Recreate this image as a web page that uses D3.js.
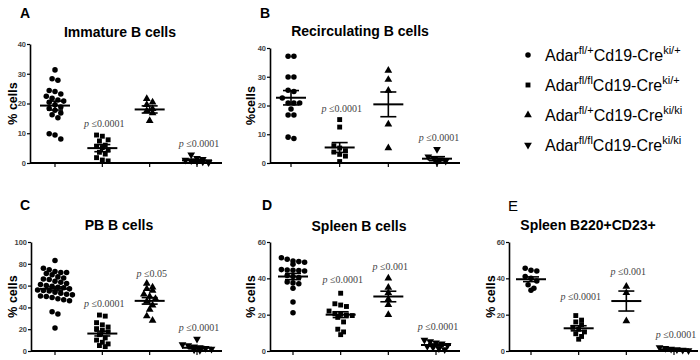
<!DOCTYPE html>
<html>
<head>
<meta charset="utf-8">
<script src="https://cdn.jsdelivr.net/npm/d3@7"></script>
<style>
  body { margin: 0; background: #fff; }
  svg { display: block; font-family: Arial, "Liberation Sans", sans-serif; }
</style>
</head>
<body>
<svg width="700" height="360"></svg>
<script>
// Genotypes (legend) and their marker shapes
const genotypes = [["fl/+", "ki/+"], ["fl/fl", "ki/+"], ["fl/+", "ki/ki"], ["fl/fl", "ki/ki"]];

// A - Immature B cells
const immature = [
  [31.3, 28.3, 27.8, 24.4, 24.0, 23.2, 22.4, 21.8, 21.2, 20.8, 20.4, 19.6, 18.8, 18.3, 17.7, 16.8, 16.2, 15.2, 9.8, 9.4, 8.1],
  [9.4, 9.0, 7.8, 7.4, 6.0, 5.6, 5.2, 4.4, 3.6, 3.0, 1.8, 1.0, 0.7],
  [21.6, 20.4, 19.6, 18.2, 17.6, 16.8, 14.2],
  [2.8, 1.6, 1.3, 1.0, 0.8, 0.6, 0.4, 0.2]
];
const immatureMean = [19.3, 5.0, 18.0, 0.9];
const immatureSem = [1.5, 1.2, 1.2, 0.3];
const immatureP = [null, "0.0001", null, "0.0001"];
const immaturePAt = [null, 12.2, null, 5.4];

// B - Recirculating B cells
const recirc = [
  [37.1, 37.1, 29.9, 29.9, 25.3, 24.9, 22.6, 20.9, 20.9, 20.9, 18.8, 16.7, 16.7, 9.0, 8.5],
  [15.1, 12.5, 6.0, 5.2, 4.3, 3.8, 3.0, 2.4, 0.5],
  [32.2, 29.0, 25.2, 13.5, 5.2],
  [4.8, 2.2, 1.6, 1.1, 0.7, 0.3]
];
const recircMean = [22.7, 5.4, 20.4, 1.5];
const recircSem = [2.5, 1.7, 4.3, 0.7];
const recircP = [null, "0.0001", null, "0.0001"];
const recircPAt = [null, 17.9, null, 7.5];

// C - PB B cells
const pb = [
  [83, 76, 74.5, 73, 72, 72, 71, 70, 68, 67, 66, 65.5, 64, 63, 62, 61, 60, 59.5, 58.5, 58, 57, 56, 55.5, 55, 54, 53, 52, 51.5, 50.5, 50, 49, 48, 47, 46, 36, 34, 21],
  [33, 32, 26, 24, 22, 20.5, 19, 17.5, 15, 12, 10, 8, 6.5, 5, 4],
  [62, 58.5, 57, 55.5, 52, 50, 48, 45.5, 42, 38, 32, 28],
  [11, 6, 5, 4, 3.2, 2.5, 1.8, 1.2, 0.6]
];
const pbMean = [57, 16, 46, 3];
const pbSem = [1.8, 2.2, 3, 1];
const pbP = [null, "0.0001", "0.05", "0.0001"];
const pbPAt = [null, 40.5, 68, 18.3];

// D - Spleen B cells
const spleen = [
  [51.3, 50.5, 49.5, 49.2, 48.8, 47.8, 44.8, 44.6, 44.5, 44.3, 44.0, 41.5, 41.0, 40.5, 38.0, 37.5, 37.0, 34.5, 27.0, 21.0],
  [31.8, 26.0, 25.3, 24.5, 22.0, 20.5, 20.2, 19.8, 19.5, 18.5, 16.0, 12.0, 10.5, 9.0],
  [40.0, 35.0, 32.0, 28.5, 25.5, 20.0],
  [6.0, 5.2, 4.6, 4.0, 3.2, 2.6, 2.0, 1.4, 0.8]
];
const spleenMean = [41, 20, 30, 3.3];
const spleenSem = [1.7, 1.6, 2.9, 0.6];
const spleenP = [null, "0.0001", "0.001", "0.0001"];
const spleenPAt = [null, 37.2, 44.8, 11.4];

// E - Spleen B220+CD23+
const cd23 = [
  [45.5, 44.5, 44.0, 41.0, 40.0, 38.5, 36.5, 34.5, 33.5],
  [19.5, 17.0, 16.0, 14.5, 13.0, 12.0, 10.5, 9.5, 8.0, 6.5],
  [35.5, 32.0, 16.5],
  [2.0, 1.5, 1.1, 0.8, 0.5, 0.3]
];
const cd23Mean = [39.5, 12.5, 27.5, 0.9];
const cd23Sem = [1.3, 1.4, 5.5, 0.2];
const cd23P = [null, "0.0001", "0.001", "0.0001"];
const cd23PAt = [null, 28, 41.8, 7];

const yTicksA = [0, 10, 20, 30, 40];
const yTicksC = [0, 20, 40, 60, 80, 100];
const yTicks60 = [0, 20, 40, 60];

// Panel layout
const panels = [
  { letter: "A", bold: true, title: "Immature B cells", ylab: "% cells", data: immature, mean: immatureMean, sem: immatureSem, p: immatureP, pAt: immaturePAt,
    ticks: yTicksA, x0: 30, x1: 222, g0: 55, g1: 197, top: 44, bot: 163, lx: 20, ly: 18, tx: 120, ty: 37, yl: 13 },
  { letter: "B", bold: true, title: "Recirculating B cells", ylab: "%cells", data: recirc, mean: recircMean, sem: recircSem, p: recircP, pAt: recircPAt,
    ticks: yTicksA, x0: 270, x1: 460, g0: 291, g1: 437, top: 48, bot: 163, lx: 260, ly: 18, tx: 360, ty: 36, yl: 251 },
  { letter: "C", bold: true, title: "PB B cells", ylab: "% cells", data: pb, mean: pbMean, sem: pbSem, p: pbP, pAt: pbPAt,
    ticks: yTicksC, x0: 31, x1: 222, g0: 55, g1: 197, top: 242, bot: 351, lx: 20, ly: 210, tx: 119, ty: 230, yl: 13 },
  { letter: "D", bold: true, title: "Spleen B cells", ylab: "% cells", data: spleen, mean: spleenMean, sem: spleenSem, p: spleenP, pAt: spleenPAt,
    ticks: yTicks60, x0: 270, x1: 460, g0: 293, g1: 436, top: 242, bot: 351, lx: 262, ly: 210, tx: 359, ty: 231, yl: 251 },
  { letter: "E", bold: false, title: "Spleen B220+CD23+", ylab: "% cells", data: cd23, mean: cd23Mean, sem: cd23Sem, p: cd23P, pAt: cd23PAt,
    ticks: yTicks60, x0: 509, x1: 698, g0: 531, g1: 674, top: 242, bot: 351, lx: 508, ly: 211, tx: 588, ty: 230, yl: 491 }
];

const svg = d3.select("svg");

const symbols = [
  d3.symbol().type(d3.symbolCircle).size(24),
  d3.symbol().type(d3.symbolSquare).size(24),
  d3.symbol().type(d3.symbolTriangle).size(26),
  d3.symbol().type(d3.symbolTriangle).size(26)
];
const rot = i => i === 3 ? " rotate(180)" : "";

// spread points sideways in rows, like a dot plot
function spread(ys, step) {
  const idx = ys.map((y, i) => i).sort((a, b) => ys[a] - ys[b]);
  const off = new Array(ys.length).fill(0);
  let row = [];
  const flush = () => {
    row.forEach((k, j) => { off[k] = (j - (row.length - 1) / 2) * step; });
    row = [];
  };
  idx.forEach(k => {
    if (row.length && ys[k] - ys[row[0]] > step * 0.9) flush();
    row.push(k);
  });
  flush();
  return off;
}

panels.forEach(P => {
  const g = svg.append("g");
  const maxV = d3.max(P.ticks);
  const y = d3.scaleLinear().domain([0, maxV]).range([P.bot, P.top]);
  const x = d3.scalePoint().domain([0, 1, 2, 3]).range([P.g0, P.g1]);

  // letter and title
  g.append("text").attr("x", P.lx).attr("y", P.ly).attr("font-size", P.bold ? 14 : 15)
    .attr("font-weight", P.bold ? "bold" : "normal").text(P.letter);
  g.append("text").attr("x", P.tx).attr("y", P.ty).attr("text-anchor", "middle")
    .attr("font-size", 14).attr("font-weight", "bold").text(P.title);

  // y label
  g.append("text").attr("transform", `translate(${P.yl},${(P.top + P.bot) / 2}) rotate(-90)`)
    .attr("text-anchor", "middle").attr("dy", "0.35em")
    .attr("font-size", 12.5).attr("font-weight", "bold").text(P.ylab);

  // y axis
  const ya = g.append("g").attr("transform", `translate(${P.x0},0)`)
    .call(d3.axisLeft(y).tickValues(P.ticks).tickSize(3).tickPadding(1).tickSizeOuter(0));
  ya.select(".domain").attr("stroke-width", 1.6);
  ya.selectAll(".tick line").attr("stroke-width", 1.2);
  ya.selectAll(".tick text").attr("font-size", 7.5).attr("font-weight", "bold").attr("fill", "#444").attr("font-family", "Arial, sans-serif");

  // x axis
  g.append("line").attr("x1", P.x0).attr("x2", P.x1).attr("y1", P.bot).attr("y2", P.bot)
    .attr("stroke", "#000").attr("stroke-width", 1.8);
  g.selectAll(".xt").data([0, 1, 2, 3]).join("line")
    .attr("x1", d => x(d)).attr("x2", d => x(d)).attr("y1", P.bot).attr("y2", P.bot + 4)
    .attr("stroke", "#000").attr("stroke-width", 1.2);

  P.data.forEach((vals, gi) => {
    const ys = vals.map(v => y(v));
    const off = spread(ys, 5.8);
    g.append("g").selectAll("path").data(vals).join("path")
      .attr("d", symbols[gi])
      .attr("transform", (v, i) => `translate(${x(gi) + off[i]},${ys[i]})${rot(gi)}`)
      .attr("fill", "#000");

    // mean and SEM
    const cx = x(gi), m = P.mean[gi], s = P.sem[gi];
    g.append("line").attr("x1", cx - 15).attr("x2", cx + 15).attr("y1", y(m)).attr("y2", y(m))
      .attr("stroke", "#000").attr("stroke-width", 2);
    g.append("line").attr("x1", cx).attr("x2", cx).attr("y1", y(m + s)).attr("y2", y(m - s))
      .attr("stroke", "#000").attr("stroke-width", 1.6);
    [m + s, m - s].forEach(v => {
      g.append("line").attr("x1", cx - 8).attr("x2", cx + 8).attr("y1", y(v)).attr("y2", y(v))
        .attr("stroke", "#000").attr("stroke-width", 1.6);
    });

    // p value
    if (P.p[gi]) {
      const t = g.append("text").attr("x", cx + 2).attr("y", y(P.pAt[gi])).attr("text-anchor", "middle")
        .attr("font-family", "'Liberation Serif', 'Times New Roman', serif").attr("font-size", 10).attr("fill", "#444");
      t.append("tspan").attr("font-style", "italic").text("p ");
      t.append("tspan").text("\u2264" + P.p[gi]);
    }
  });
});

// legend
const leg = svg.append("g");
genotypes.forEach((gt, i) => {
  const yy = 55 + i * 30;
  leg.append("path").attr("d", symbols[i]).attr("transform", `translate(528,${yy})${rot(i)}`).attr("fill", "#000");
  const t = leg.append("text").attr("x", 545).attr("y", yy + 6).attr("font-size", 16);
  t.append("tspan").text("Adar");
  t.append("tspan").attr("font-size", 11).attr("dy", -7).text(gt[0]);
  t.append("tspan").attr("dy", 7).text("Cd19-Cre");
  t.append("tspan").attr("font-size", 11).attr("dy", -7).text(gt[1]);
});
</script>
</body>
</html>
